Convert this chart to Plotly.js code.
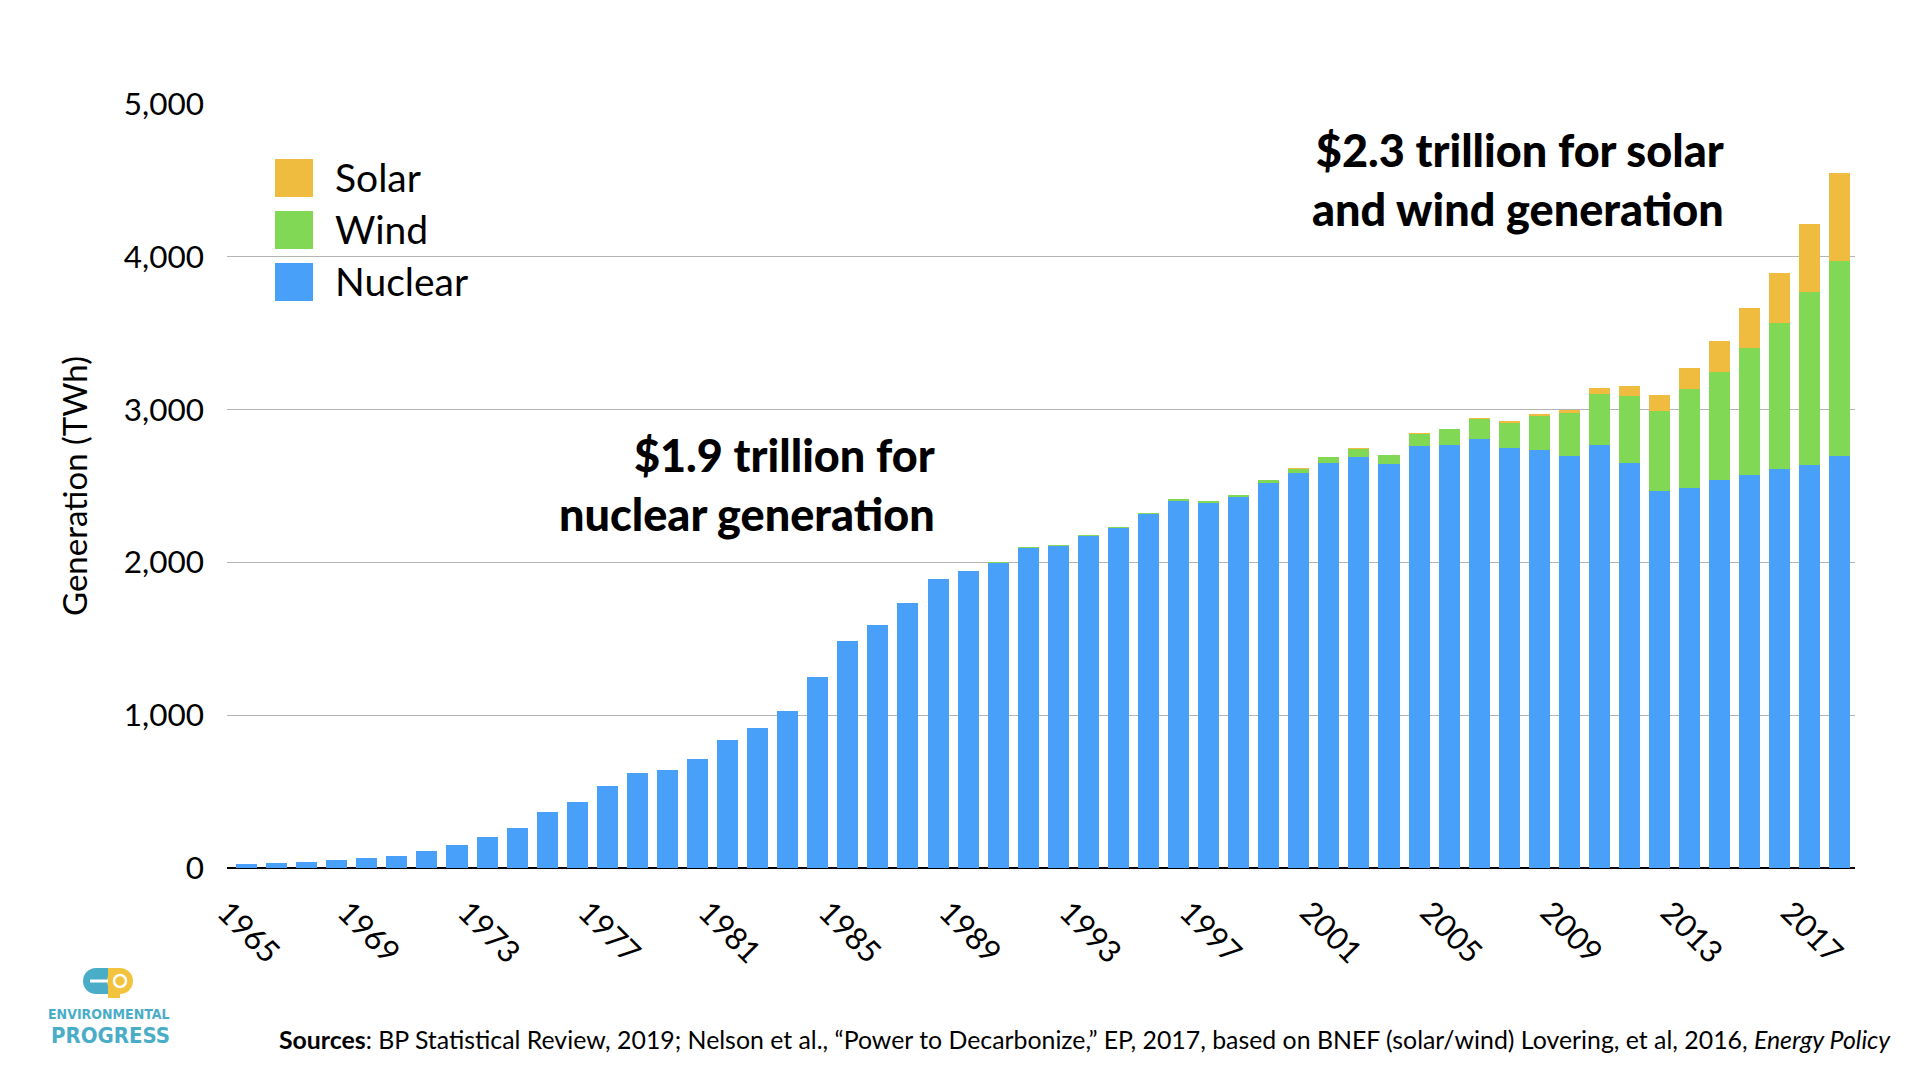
<!DOCTYPE html>
<html><head><meta charset="utf-8">
<script src="https://cdn.plot.ly/plotly-3.0.1.min.js"></script>
<style>html,body{margin:0;padding:0;background:#fff;} #chart{width:1920px;height:1080px;}</style>
</head><body><div id="chart"></div>
<script>
// ---- data (TWh) ----
const years = [1965,1966,1967,1968,1969,1970,1971,1972,1973,1974,
  1975,1976,1977,1978,1979,1980,1981,1982,1983,1984,
  1985,1986,1987,1988,1989,1990,1991,1992,1993,1994,
  1995,1996,1997,1998,1999,2000,2001,2002,2003,2004,
  2005,2006,2007,2008,2009,2010,2011,2012,2013,2014,
  2015,2016,2017,2018];
const nuclear = [26,33,40,52,64,80,112,153,204,264,
  367,433,538,622,643,714,839,916,1028,1248,
  1487,1592,1734,1890,1944,1996,2093,2107,2176,2223,
  2316,2402,2388,2427,2520,2583,2652,2693,2642,2759,
  2771,2805,2747,2738,2698,2766,2652,2469,2489,2542,
  2574,2614,2639,2699];
const wind = [0,0,0,0,0,0,0,0,0,0,
  0,0,0,0,0,0,0,0,0,0,
  1,1,1,2,3,4,5,5,6,7,
  8,10,12,16,21,31,38,52,62,84,
  100,131,168,218,278,339,434,523,648,707,
  830,955,1128,1273];
const solar = [0,0,0,0,0,0,0,0,0,0,
  0,0,0,0,0,0,0,0,0,0,
  0,0,0,0,0,0,0,0,0,0,
  0,0,0,0,0,1,1,2,2,3,
  4,6,8,12,20,38,66,104,136,200,
  262,327,449,578];
const tickYears = [1965,1969,1973,1977,1981,1985,1989,1993,1997,2001,2005,2009,2013,2017];
const tickLabels = ['1965','1969','1973','1977','1981','1985','1989','1993','1997','2001','2005','2009','2013','2017'];
const yTicks = [0,1000,2000,3000,4000,5000];
const yTickLabels = ['0','1,000','2,000','3,000','4,000','5,000'];
const legendNames = ['Solar','Wind','Nuclear'];

// ---- styling ----
const C_NUC = '#48A0F8', C_WIND = '#80D855', C_SOLAR = '#F0BC40';
const legendColors = [C_SOLAR, C_WIND, C_NUC];
const FONT = 'Lato, "Open Sans", "Noto Sans", sans-serif';
const NARROW = '"Liberation Sans Narrow", "DejaVu Sans Condensed", sans-serif';
const TEAL = '#4AADC8', GOLD = '#F2C33C';
const L = 227, R = 1855, T = 104, B = 868;
const px = x => (x - L) / (R - L);
const py = y => (B - y) / (B - T);

const traces = [
  {type:'bar', name:'Nuclear', x:years, y:nuclear, marker:{color:C_NUC}, hoverinfo:'x+y+name'},
  {type:'bar', name:'Wind', x:years, y:wind, marker:{color:C_WIND}, hoverinfo:'x+y+name'},
  {type:'bar', name:'Solar', x:years, y:solar, marker:{color:C_SOLAR}, hoverinfo:'x+y+name'}
];

const shapes = [];
const annotations = [];

// custom legend
legendNames.forEach((n, i) => {
  const top = 159 + i * 52;
  shapes.push({type:'rect', xref:'paper', yref:'paper', x0:px(275), x1:px(313), y0:py(top), y1:py(top+38),
    fillcolor:legendColors[i], line:{width:0}, layer:'above'});
  annotations.push({xref:'paper', yref:'paper', x:px(333), y:py(top+18), xanchor:'left', yanchor:'middle',
    text:n, showarrow:false, font:{family:FONT, size:39, color:'#000'}});
});

// callouts
annotations.push({xref:'paper', yref:'paper', x:px(937), y:py(484), xanchor:'right', yanchor:'middle', align:'right',
  text:'$1.9 trillion for<br>nuclear generation', showarrow:false,
  font:{family:FONT, size:45, weight:900, color:'#000'}});
annotations.push({xref:'paper', yref:'paper', x:px(1726), y:py(179), xanchor:'right', yanchor:'middle', align:'right',
  text:'$2.3 trillion for solar<br>and wind generation', showarrow:false,
  font:{family:FONT, size:45, weight:900, color:'#000'}});

// sources
annotations.push({xref:'paper', yref:'paper', x:px(277), y:py(1039), xanchor:'left', yanchor:'middle', align:'left',
  text:'<b>Sources</b>: BP Statistical Review, 2019; Nelson et al., \u201cPower to Decarbonize,\u201d EP, 2017, based on BNEF (solar/wind) Lovering, et al, 2016, <i>Energy Policy</i>',
  showarrow:false, font:{family:FONT, size:24.85, color:'#000'}});

// logo
shapes.push({type:'circle', xref:'paper', yref:'paper', x0:px(83), x1:px(109), y0:py(968), y1:py(994), fillcolor:TEAL, line:{width:0}, layer:'above'});
shapes.push({type:'rect', xref:'paper', yref:'paper', x0:px(96), x1:px(108), y0:py(968), y1:py(994), fillcolor:TEAL, line:{width:0}, layer:'above'});
shapes.push({type:'circle', xref:'paper', yref:'paper', x0:px(107), x1:px(133), y0:py(968), y1:py(994), fillcolor:GOLD, line:{width:0}, layer:'above'});
shapes.push({type:'rect', xref:'paper', yref:'paper', x0:px(108), x1:px(120), y0:py(968), y1:py(998), fillcolor:GOLD, line:{width:0}, layer:'above'});
shapes.push({type:'line', xref:'paper', yref:'paper', x0:px(90), x1:px(108), y0:py(981), y1:py(981), line:{color:'#fff', width:3}, layer:'above'});
shapes.push({type:'circle', xref:'paper', yref:'paper', x0:px(114), x1:px(126), y0:py(975), y1:py(987), fillcolor:'rgba(0,0,0,0)', line:{color:'#fff', width:2.5}, layer:'above'});
annotations.push({xref:'paper', yref:'paper', x:px(109), y:py(1014), xanchor:'center', yanchor:'middle',
  text:'<b>ENVIRONMENTAL</b>', showarrow:false, font:{family:NARROW, size:14, color:TEAL}});
annotations.push({xref:'paper', yref:'paper', x:px(110), y:py(1035), xanchor:'center', yanchor:'middle',
  text:'<b>PROGRESS</b>', showarrow:false, font:{family:NARROW, size:22, color:TEAL}});

const layout = {
  width:1920, height:1080,
  margin:{l:L, r:1920-R, t:T, b:1080-B, pad:0},
  paper_bgcolor:'#fff', plot_bgcolor:'#fff',
  barmode:'stack', bargap:0.3,
  showlegend:false,
  font:{family:FONT, color:'#000'},
  xaxis:{
    range:[1964.35, 2018.5], tickmode:'array', tickvals:tickYears, ticktext:tickLabels,
    tickangle:45, tickfont:{family:FONT, size:31, color:'#000'},
    showgrid:false, zeroline:false, showline:false, ticks:'',
    ticklabelshift:-20, ticklabelstandoff:19
  },
  yaxis:{
    range:[0,5000], tickmode:'array', tickvals:yTicks, ticktext:yTickLabels,
    tickfont:{family:FONT, size:31.5, color:'#000'},
    showgrid:true, gridcolor:'#b4b4b4', gridwidth:1.2,
    zeroline:true, zerolinecolor:'#000', zerolinewidth:2,
    showline:false, ticks:'', ticklabelstandoff:22,
    title:{text:'Generation (TWh)', font:{family:FONT, size:33, color:'#000'}, standoff:26}
  },
  shapes:shapes, annotations:annotations
};

Plotly.newPlot('chart', traces, layout, {displayModeBar:false, staticPlot:true});
</script></body></html>
